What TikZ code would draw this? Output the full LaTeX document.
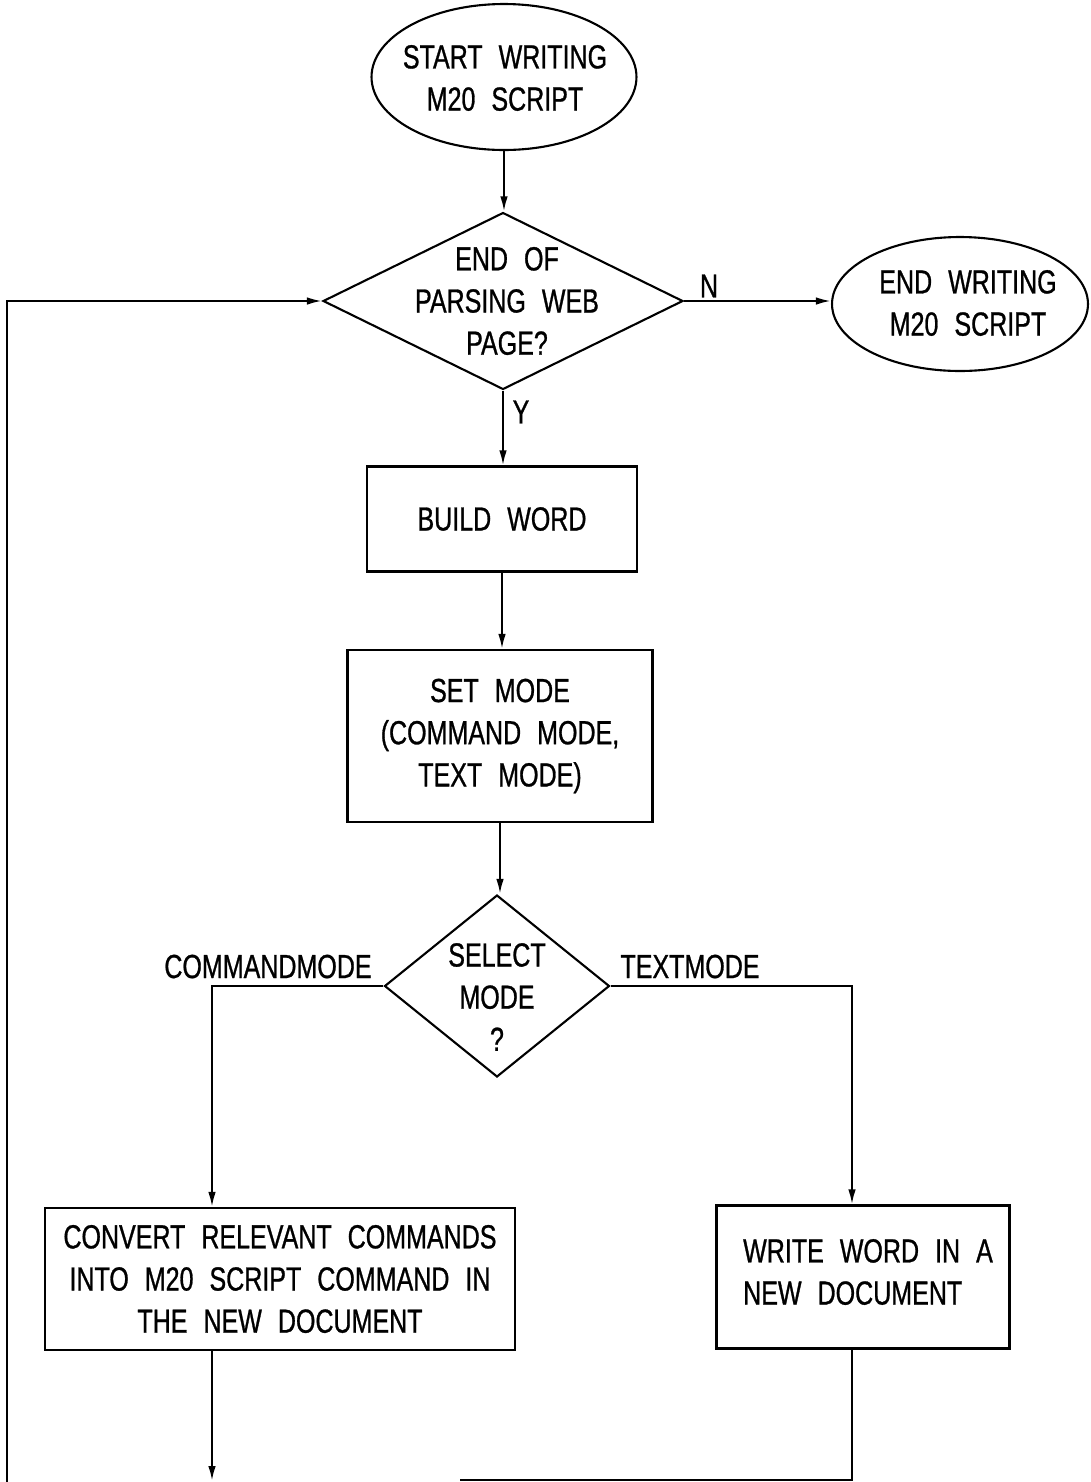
\documentclass[tikz,border=0pt]{standalone}
\usepackage{fontspec}
\setmainfont{Liberation Sans}[FakeStretch=0.75, WordSpace=2.3, FakeBold=0.8]
\usetikzlibrary{shapes.geometric,arrows.meta}
\tikzset{
  ln/.style={line width=1.2pt},
  arr/.style={ln,-{Latex[length=0.3cm,width=0.15cm]}},
  shp/.style={draw,line width=1.2pt,inner sep=0pt},
  box/.style={shp,rectangle,align=center,font=\fontsize{19}{24}\selectfont},
  oval/.style={shp,ellipse},
  dia/.style={shp,diamond},
  txt/.style={align=center,inner sep=0pt,font=\fontsize{19}{24}\selectfont},
  lbl/.style={inner sep=0pt,font=\fontsize{19}{24}\selectfont}
}
\begin{document}
\begin{tikzpicture}[x=0.02cm,y=-0.02cm]
\useasboundingbox (0,0) rectangle (1091,1482);
% shapes
\node[oval,minimum width=5.3cm,minimum height=2.92cm] (start) at (504,77) {};
\node[txt] (starttxt) at (505,78) {START WRITING\\M20 SCRIPT};
\node[dia,minimum width=7.2cm,minimum height=3.54cm] (d1) at (503,301) {};
\node[txt] (d1txt) at (507,301) {END OF\\PARSING WEB\\PAGE?};
\node[oval,minimum width=5.12cm,minimum height=2.68cm] (end) at (960,304) {};
\node[txt] (endtxt) at (968,303) {END WRITING\\M20 SCRIPT};
\node[box,minimum width=5.4cm,minimum height=2.1cm] (build) at (502,519) {BUILD WORD};
\node[box,minimum width=6.1cm,minimum height=3.44cm] (set) at (500,736) {SET MODE\\(COMMAND MODE,\\TEXT MODE)};
\node[dia,minimum width=4.5cm,minimum height=3.64cm] (d2) at (497,986) {};
\node[txt] (d2txt) at (497,997) {SELECT\\MODE\\?};
\node[box,minimum width=9.4cm,minimum height=2.84cm] (conv) at (280,1279) {CONVERT RELEVANT COMMANDS\\INTO M20 SCRIPT COMMAND IN\\THE NEW DOCUMENT};
\node[shp,rectangle,minimum width=5.86cm,minimum height=2.86cm] (write) at (863,1277) {};
\node[txt,align=left] (writetxt) at (868,1272) {WRITE WORD IN A\\NEW DOCUMENT};
% labels
\node[lbl] (nlbl) at (709,286) {N};
\node[lbl] (ylbl) at (521,412) {Y};
\node[lbl,anchor=base] (cmlbl) at (268,978) {COMMANDMODE};
\node[lbl,anchor=base] (tmlbl) at (690,978) {TEXTMODE};
% coordinates
\coordinate (loopbot) at (7,1482);
\coordinate (convbot) at (212,1481);
\coordinate (wcol) at (852,1480);
\coordinate (mergeend) at (460,1480);
% connectors
\draw[arr] (start.south) -- (start.south |- d1.north);
\draw[arr] (d1.east) -- (d1.east -| end.west);
\draw[arr] (d1.south) -- (d1.south |- build.north);
\draw[arr] (build.south) -- (build.south |- set.north);
\draw[arr] (set.south) -- (set.south |- d2.north);
\draw[arr] (d2.west) -| (conv.north -| convbot);
\draw[arr] (d2.east) -| (write.north -| wcol);
\draw[arr] (conv.south -| convbot) -- (convbot);
\draw[ln] (write.south -| wcol) -- (wcol) -- (mergeend);
\draw[arr] (loopbot) |- (d1.west);
\end{tikzpicture}
\end{document}
